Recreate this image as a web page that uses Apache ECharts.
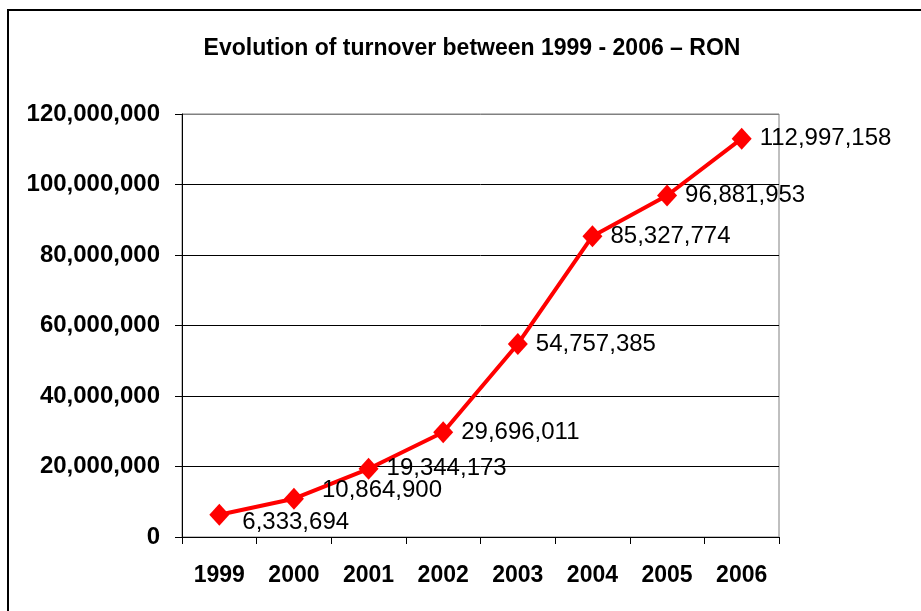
<!DOCTYPE html>
<html>
<head>
<meta charset="utf-8">
<script src="https://cdn.jsdelivr.net/npm/echarts@6/dist/echarts.min.js"></script>
<style>html,body{margin:0;padding:0;background:#fff}#c{width:921px;height:611px}</style>
</head>
<body>
<div id="c"></div>
<script>
const categories = ['1999','2000','2001','2002','2003','2004','2005','2006'];
const turnover = [6333694, 10864900, 19344173, 29696011, 54757385, 85327774, 96881953, 112997158];
const titleText = 'Evolution of turnover between 1999 - 2006 \u2013 RON';
const yMin = 0, yMax = 120000000, yStep = 20000000;

const fmt = v => Math.round(v).toString().replace(/\B(?=(\d{3})+(?!\d))/g, ',');
const labelOffsets = {0: [5, 8], 1: [10, -8]};

const chart = echarts.init(document.getElementById('c'), null, {renderer: 'canvas'});
chart.setOption({
  animation: false,
  backgroundColor: '#fff',
  title: {
    text: titleText, left: 467, top: 32, textAlign: 'center',
    textStyle: {fontFamily: 'Liberation Sans, Arial', fontWeight: 'bold', fontSize: 23, color: '#000'}
  },
  graphic: [{
    type: 'rect', shape: {x: 8, y: 10, width: 1000, height: 700},
    style: {fill: 'none', stroke: '#000', lineWidth: 2}, z: 100, silent: true
  }],
  grid: {left: 182, top: 114, right: 142, bottom: 74, show: true, borderColor: '#808080', borderWidth: 1, backgroundColor: '#fff', z: 0},
  xAxis: {
    type: 'category', data: categories, boundaryGap: true,
    axisLine: {lineStyle: {color: '#000', width: 1}},
    axisTick: {show: true, interval: 0, length: 7, lineStyle: {color: '#000'}},
    axisLabel: {margin: 27, fontFamily: 'Liberation Sans, Arial', fontWeight: 'bold', fontSize: 23, color: '#000'}
  },
  yAxis: {
    type: 'value', min: yMin, max: yMax, interval: yStep,
    axisLine: {show: true, lineStyle: {color: '#000', width: 1}},
    axisTick: {show: true, length: 7, lineStyle: {color: '#000'}},
    axisLabel: {margin: 22, fontFamily: 'Liberation Sans, Arial', fontWeight: 'bold', fontSize: 24, color: '#000', formatter: v => fmt(v)},
    splitLine: {show: true, lineStyle: {color: ['#000','#000','#000','#000','#000','#000','#808080'], width: 1}}
  },
  series: [{
    type: 'line', z: 5,
    data: turnover.map((v, i) => ({
      value: v,
      label: labelOffsets[i] ? {offset: labelOffsets[i]} : undefined
    })),
    symbol: 'diamond', symbolSize: [20, 22],
    lineStyle: {color: '#ff0000', width: 4},
    itemStyle: {color: '#ff0000'},
    label: {
      show: true, position: 'right', distance: 8,
      fontFamily: 'Liberation Sans, Arial', fontSize: 24, color: '#000',
      formatter: p => fmt(p.value)
    }
  }]
});
</script>
</body>
</html>
